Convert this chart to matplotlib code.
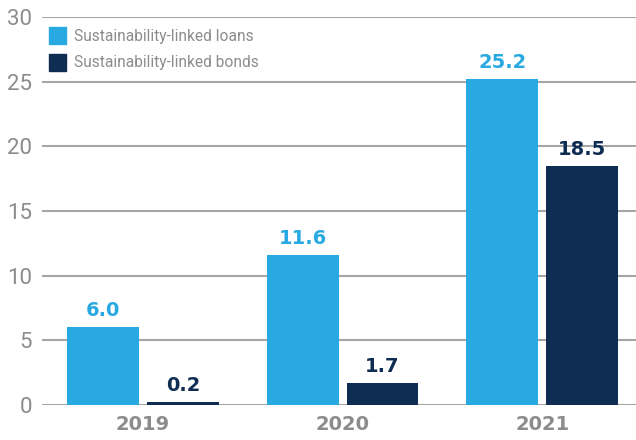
import matplotlib
matplotlib.use('Agg')
import matplotlib.pyplot as plt
from matplotlib.patches import Rectangle
import numpy as np

# Data
years = ['2019', '2020', '2021']
loans = [6.0, 11.6, 25.2]
bonds = [0.2, 1.7, 18.5]
y_ticks = [0, 5, 10, 15, 20, 25, 30]

light_blue = '#29A9E1'
navy = '#0F2D52'
gray_text = '#8C8C8E'
grid_col = '#A6A6A6'

narrow = ['Liberation Sans Narrow', 'Roboto', 'DejaVu Sans']
bold_font = ['DejaVu Sans']

fig = plt.figure(figsize=(6.36, 4.4), dpi=100)
ax = fig.add_axes([0.066, 0.0795, 0.934, 0.882])

x = np.arange(len(years))
w = 0.36
b1 = ax.bar(x - 0.2, loans, w, color=light_blue, zorder=3)
b2 = ax.bar(x + 0.2, bonds, w, color=navy, zorder=3)

for bars, vals, col in [(b1, loans, light_blue), (b2, bonds, navy)]:
    for bar, v in zip(bars, vals):
        ax.annotate(f'{v:.1f}', (bar.get_x() + bar.get_width() / 2, v),
                    xytext=(0, 5), textcoords='offset points',
                    ha='center', va='bottom', color=col,
                    fontsize=14, fontweight='bold', family=bold_font)

ax.set_xlim(-0.506, 2.47)
ax.set_ylim(0, 30)
ax.set_yticks(y_ticks)
ax.set_yticklabels([str(t) for t in y_ticks], fontsize=16, color=gray_text, family=narrow)
ax.set_xticks(x)
ax.set_xticklabels(years, fontsize=14, fontweight='bold', color=gray_text, family=bold_font)
ax.tick_params(axis='both', length=0)
ax.tick_params(axis='y', pad=7)
ax.tick_params(axis='x', pad=7)

for t in y_ticks:
    ax.axhline(t, color=grid_col, lw=1.5, zorder=1)

for s in ax.spines.values():
    s.set_visible(False)

# legend drawn as squares + labels
legend_items = [('Sustainability-linked loans', light_blue), ('Sustainability-linked bonds', navy)]
for i, (lab, col) in enumerate(legend_items):
    top = 27 + i * 27
    fig.patches.append(Rectangle((49 / 636, 1 - (top + 17) / 440), 17 / 636, 17 / 440,
                                 transform=fig.transFigure, color=col, figure=fig))
    fig.text(74 / 636, 1 - (top + 9) / 440, lab, fontsize=11.2, color=gray_text,
             family=narrow, va='center', ha='left')

fig.savefig('out.png', dpi=100)
